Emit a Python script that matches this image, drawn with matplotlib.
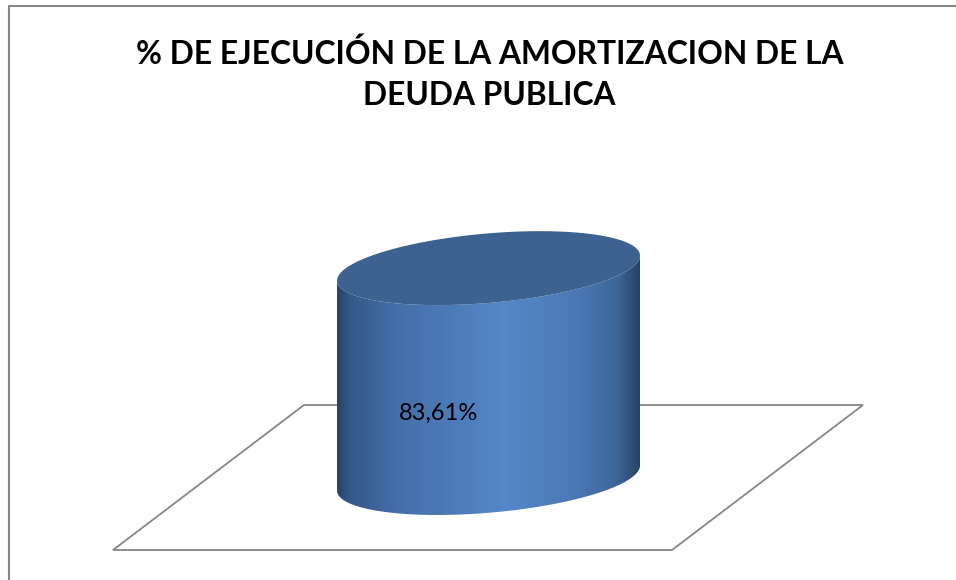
import numpy as np
import matplotlib
matplotlib.use('Agg')
import matplotlib.pyplot as plt
from matplotlib.colors import LinearSegmentedColormap
from matplotlib.patches import Polygon

title = '% DE EJECUCIÓN DE LA AMORTIZACION DE LA\nDEUDA PUBLICA'
value = 83.61
value_label = '83,61%'

grid_color = '#868686'
top_color = '#3d6190'
side_stops = [(0.0, '#274366'), (0.04, '#345888'), (0.2, '#456fa8'),
              (0.55, '#5587c9'), (0.8, '#4a78b4'), (0.93, '#3d6596'), (1.0, '#274366')]

plt.rcParams['font.family'] = ['Lato', 'DejaVu Sans']

# layout in pixels of the 956x580 picture
W, H = 956, 580
base_px = 478       # centre of the cylinder foot
px_per_unit = 2.51  # value scale
cx, half_w = 488.5, 151.5
tilt, half_h = 12.5, 34.8

fig = plt.figure(figsize=(W / 100, H / 100), dpi=100)
ax = fig.add_axes([0, 0, 1, 1])
ax.set_xlim(0, W)
ax.set_ylim((base_px - H) / px_per_unit, base_px / px_per_unit)
ax.axis('off')


def to_val(py):
    return (base_px - py) / px_per_unit


# chart border, only left and top show
ax.plot([9, 9, W], [to_val(H), to_val(6), to_val(6)], color=grid_color, lw=1.5)

# floor
floor_x = [113, 672, 863, 304]
floor_y = [to_val(p) for p in [550, 550, 405, 405]]
ax.add_patch(Polygon(list(zip(floor_x, floor_y)), closed=True, fc='white', ec=grid_color, lw=1.3))

# cylinder
t = np.linspace(0, 2 * np.pi, 361)
ex = cx + half_w * np.cos(t)
ey = (tilt * np.cos(t) + half_h * np.sin(t)) / px_per_unit

# side outline: front half of the foot, back half of the top
front = (ey - (tilt * np.cos(t)) / px_per_unit) <= 0
tf = t[front]
order = np.argsort(np.cos(tf))
side_x = np.r_[ex[front][order], ex[front][order][::-1]]
side_y = np.r_[ey[front][order], ey[front][order][::-1] + value]

cmap = LinearSegmentedColormap.from_list('side', side_stops, N=512)
grad = np.linspace(0, 1, 304).reshape(1, -1)
im = ax.imshow(grad, cmap=cmap, aspect='auto', zorder=3, interpolation='bilinear',
               extent=[cx - half_w, cx + half_w, to_val(H), to_val(0)])
clip = Polygon(list(zip(side_x, side_y)), closed=True, transform=ax.transData, fc='none', ec='none')
ax.add_patch(clip)
im.set_clip_path(clip)
ax.set_xlim(0, W)
ax.set_ylim((base_px - H) / px_per_unit, base_px / px_per_unit)

ax.fill(ex, ey + value, color=top_color, lw=0, zorder=4)

ax.text(438.5, to_val(413), value_label, fontsize=17, color='black', ha='center', va='center', zorder=5)
ax.text(489.5, to_val(74), title, fontsize=22.9, fontweight='bold', color='black',
        ha='center', va='center', linespacing=1.5, zorder=5)

fig.savefig('out.png', dpi=100)
